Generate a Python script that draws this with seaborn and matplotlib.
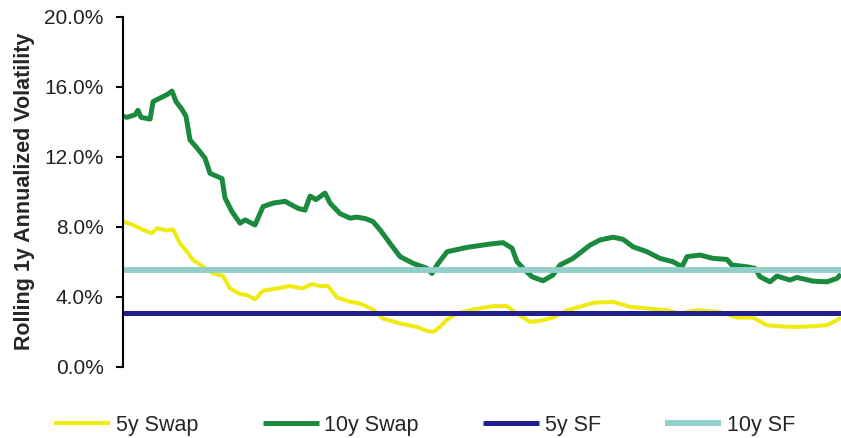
import matplotlib
matplotlib.use("Agg")
import matplotlib.pyplot as plt
import seaborn as sns
import pandas as pd
from matplotlib.ticker import FuncFormatter

# Time axis in months since start of the sample
swap10_t = [0, 0.33, 1.0, 1.25, 1.5, 2.26, 2.51, 3.09, 3.68, 4.09, 4.43, 4.93, 5.26, 5.6,
            6.18, 6.85, 7.27, 7.94, 8.27, 8.52, 9.11, 9.78, 10.2, 11.03, 11.7, 12.54,
            13.54, 14.62, 15.21, 15.63, 16.13, 16.88, 17.3, 18.13, 18.97, 19.55, 20.31,
            20.89, 21.48, 22.31, 23.15, 24.23, 25.4, 25.82, 26.24, 27.08, 28.75, 30.67,
            31.76, 32.51, 32.92, 33.59, 34.18, 35.1, 35.93, 36.52, 37.6, 39.03, 39.86,
            40.95, 41.78, 42.62, 43.79, 44.87, 45.96, 46.71, 47.13, 48.22, 49.3, 50.47,
            50.89, 52.14, 52.81, 53.23, 54.07, 54.65, 55.74, 56.32, 57.66, 58.83, 59.67, 60]
swap10_vol = [14.31, 14.25, 14.4, 14.65, 14.25, 14.15, 15.15, 15.35, 15.55, 15.75, 15.15,
              14.7, 14.31, 12.95, 12.5, 11.92, 11.05, 10.85, 10.75, 9.65, 8.85, 8.2, 8.39,
              8.1, 9.15, 9.35, 9.45, 9.05, 8.95, 9.75, 9.55, 9.92, 9.35, 8.75, 8.49, 8.55,
              8.45, 8.29, 7.82, 7.05, 6.29, 5.91, 5.62, 5.33, 5.81, 6.57, 6.82, 7.01, 7.09,
              6.77, 6.0, 5.52, 5.14, 4.91, 5.24, 5.81, 6.19, 6.95, 7.24, 7.4, 7.28, 6.85,
              6.57, 6.19, 6.0, 5.71, 6.29, 6.38, 6.19, 6.13, 5.81, 5.71, 5.62, 5.14, 4.85,
              5.18, 4.95, 5.1, 4.89, 4.85, 5.05, 5.29]

swap5_t = [0, 0.84, 1.67, 2.42, 2.84, 3.68, 4.18, 4.76, 5.35, 5.85, 6.69, 7.52, 8.36, 8.94,
           9.78, 10.36, 11.03, 11.7, 12.87, 13.96, 14.96, 15.79, 16.46, 17.13, 17.88,
           18.97, 19.81, 20.89, 21.73, 23.15, 24.57, 25.4, 25.91, 26.49, 27.08, 27.91,
           29.25, 30.92, 32.09, 32.92, 34.01, 34.85, 35.93, 37.1, 38.19, 39.28, 40.95,
           42.37, 43.79, 45.46, 46.55, 47.97, 49.89, 51.31, 52.65, 53.82, 54.9, 55.99,
           57.66, 58.83, 59.67, 60]
swap5_vol = [8.29, 8.1, 7.82, 7.63, 7.91, 7.78, 7.85, 7.05, 6.57, 6.1, 5.71, 5.33, 5.18,
             4.47, 4.15, 4.09, 3.85, 4.34, 4.47, 4.61, 4.47, 4.72, 4.61, 4.61, 3.95, 3.71,
             3.61, 3.27, 2.75, 2.47, 2.27, 2.04, 1.99, 2.27, 2.7, 3.04, 3.27, 3.46, 3.46,
             3.04, 2.56, 2.62, 2.81, 3.23, 3.42, 3.65, 3.71, 3.42, 3.33, 3.23, 3.04, 3.23,
             3.13, 2.81, 2.81, 2.37, 2.31, 2.27, 2.31, 2.37, 2.66, 2.81]

# Flat volatility levels for the SF instruments
sf5_level = 3.05
sf10_level = 5.5
period = [0, 60]

series_names = ["5y Swap", "10y Swap", "5y SF", "10y SF"]
series_colors = ["#EEEA12", "#1B8A3E", "#22208E", "#92CFCB"]
series_widths = [2.9, 3.6, 3.6, 4.2]

sns.set_style("white")
plt.rcParams["font.family"] = ["Liberation Sans", "DejaVu Sans"]

frames = [
    pd.DataFrame({"t": swap5_t, "vol": swap5_vol, "series": "5y Swap"}),
    pd.DataFrame({"t": swap10_t, "vol": swap10_vol, "series": "10y Swap"}),
    pd.DataFrame({"t": period, "vol": [sf5_level] * 2, "series": "5y SF"}),
    pd.DataFrame({"t": period, "vol": [sf10_level] * 2, "series": "10y SF"}),
]

fig = plt.figure(figsize=(8.41, 4.38), dpi=100)
ax = fig.add_axes([0.1463, 0.1628, 0.8537, 0.7990])

for df, name, col, lw in zip(frames, series_names, series_colors, series_widths):
    sns.lineplot(data=df, x="t", y="vol", ax=ax, color=col, linewidth=lw,
                 label=name, legend=False, solid_capstyle="butt")

ax.set_xlim(0, 60)
ax.set_ylim(0, 20)
ax.set_yticks([0, 4, 8, 12, 16, 20])
ax.yaxis.set_major_formatter(FuncFormatter(lambda v, _: f"{v:.1f}%"))
ax.set_xticks([])
ax.set_xlabel("")
ax.set_ylabel("Rolling 1y Annualized Volatility", fontsize=15.5, fontweight="bold")
ax.yaxis.set_label_coords(-0.1226, 0.5)

for side in ["top", "right", "bottom"]:
    ax.spines[side].set_visible(False)
ax.spines["left"].set_color("black")
ax.spines["left"].set_linewidth(1.5)
ax.tick_params(axis="y", left=True, direction="out", length=5, width=1.5,
               color="black", labelsize=15, pad=9, labelcolor="#222222")

handles, labels = ax.get_legend_handles_labels()
fig.legend(handles, labels, loc="center", bbox_to_anchor=(0.505, 1 - 425 / 438),
           ncol=4, frameon=False, fontsize=15.5, handlelength=2.6,
           handletextpad=0.25, columnspacing=3.0)

fig.savefig("out.png", dpi=100, facecolor="white")
